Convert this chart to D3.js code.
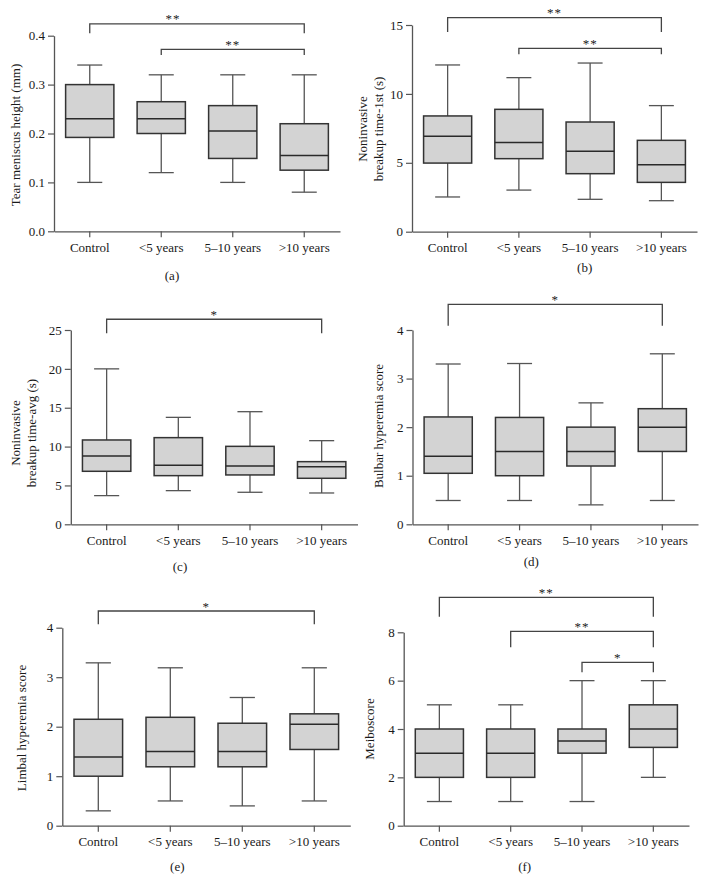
<!DOCTYPE html>
<html><head><meta charset="utf-8">
<script src="https://cdn.jsdelivr.net/npm/d3@7"></script>
<style>
body{margin:0;background:#fff}
svg{display:block}
text{font-family:"Liberation Serif","DejaVu Serif",serif;fill:#1a1a1a}
</style>
</head><body><svg id="c" width="706" height="893"></svg>
<script>
// ---------- DATA ----------
const categories = ["Control", "<5 years", "5\u201310 years", ">10 years"];
// each entry: [whisker min, Q1, median, Q3, whisker max]
const tearMeniscusHeight = [[0.10,0.192,0.23,0.30,0.34],[0.12,0.20,0.23,0.265,0.32],[0.10,0.149,0.205,0.257,0.32],[0.08,0.125,0.155,0.22,0.32]];
const nibutFirst = [[2.52,4.98,6.92,8.40,12.10],[3.02,5.30,6.48,8.88,11.18],[2.35,4.21,5.83,7.96,12.24],[2.25,3.58,4.86,6.63,9.15]];
const nibutAvg = [[3.69,6.82,8.79,10.85,20.0],[4.33,6.26,7.59,11.15,13.76],[4.12,6.35,7.50,10.03,14.49],[4.03,5.92,7.42,8.06,10.76]];
const bulbarHyperemia = [[0.49,1.05,1.40,2.21,3.30],[0.49,1.00,1.50,2.20,3.31],[0.40,1.20,1.50,2.00,2.50],[0.49,1.50,2.00,2.38,3.51]];
const limbalHyperemia = [[0.30,1.00,1.39,2.15,3.29],[0.50,1.19,1.50,2.19,3.19],[0.40,1.19,1.50,2.07,2.59],[0.50,1.54,2.05,2.26,3.19]];
const meiboscore = [[1,2,3,4,5],[1,2,3,4,5],[1,3,3.5,4,6],[2,3.24,4,5,6]];

const ticksA = [0, 0.1, 0.2, 0.3, 0.4];
const ticksB = [0, 5, 10, 15];
const ticksC = [0, 5, 10, 15, 20, 25];
const ticksD = [0, 1, 2, 3, 4];
const ticksE = [0, 1, 2, 3, 4];
const ticksF = [0, 2, 4, 6, 8];

// significance brackets: group indices, label, bracket level and leg end (data units)
const sigA = [{from:0,to:3,label:"**",level:0.424,leg:0.405},{from:1,to:3,label:"**",level:0.372,leg:0.3605}];
const sigB = [{from:0,to:3,label:"**",level:15.54,leg:14.49},{from:1,to:3,label:"**",level:13.31,leg:12.87}];
const sigC = [{from:0,to:3,label:"*",level:26.38,leg:24.58}];
const sigD = [{from:0,to:3,label:"*",level:4.529,leg:4.088}];
const sigE = [{from:0,to:3,label:"*",level:4.337,leg:4.069}];
const sigF = [{from:0,to:3,label:"**",level:9.448,leg:8.645},{from:1,to:3,label:"**",level:8.041,leg:7.379},{from:2,to:3,label:"*",level:6.759,leg:6.345}];

// ---------- LAYOUT ----------
const panels = [
  {data:tearMeniscusHeight, ticks:ticksA, fmt:".1f", title:["Tear meniscus height (mm)"], letter:"(a)", sig:sigA,
   L:{x0:54,x1:340,yb:231.3,yt:35.7,titleX:[15],titleY:135,letterX:172,letterY:275,starShift:[-24,0]}},
  {data:nibutFirst, ticks:ticksB, fmt:"d", title:["Noninvasive","breakup time-1st (s)"], letter:"(b)", sig:sigB,
   L:{x0:412,x1:697,yb:231.7,yt:25,titleX:[362.5,378.5],titleY:129,letterX:584.7,letterY:267,starShift:[0,0]}},
  {data:nibutAvg, ticks:ticksC, fmt:"d", title:["Noninvasive","breakup time-avg (s)"], letter:"(c)", sig:sigC,
   L:{x0:70.8,x1:357.5,yb:524.3,yt:330,titleX:[15,31.7],titleY:433,letterX:180,letterY:566.7,starShift:[0]}},
  {data:bulbarHyperemia, ticks:ticksD, fmt:"d", title:["Bulbar hyperemia score"], letter:"(d)", sig:sigD,
   L:{x0:412.5,x1:698,yb:524.3,yt:330,titleX:[378],titleY:426,letterX:531.3,letterY:561.7,starShift:[0]}},
  {data:limbalHyperemia, ticks:ticksE, fmt:"d", title:["Limbal hyperemia score"], letter:"(e)", sig:sigE,
   L:{x0:62.3,x1:350.3,yb:825.7,yt:627.7,titleX:[21.7],titleY:728,letterX:177.3,letterY:866,starShift:[0]}},
  {data:meiboscore, ticks:ticksF, fmt:"d", title:["Meiboscore"], letter:"(f)", sig:sigF,
   L:{x0:403.7,x1:689,yb:825.7,yt:632.3,titleX:[369.7],titleY:729,letterX:524.7,letterY:866.7,starShift:[0,0,0]}}
];

const svg = d3.select("#c");
const FS = 13;
const axisColor = "#555";
const boxStroke = "#333";
const whiskerColor = "#555";
const fillColor = "#d3d3d3";

panels.forEach(p => {
  const L = p.L;
  const ymax = p.ticks[p.ticks.length - 1];
  const y = d3.scaleLinear().domain([0, ymax]).range([L.yb, L.yt]);
  const x = d3.scaleBand().domain(categories).range([L.x0, L.x1]).padding(0);
  const g = svg.append("g");

  // y axis
  const ya = g.append("g").attr("transform", `translate(${L.x0},0)`)
    .call(d3.axisLeft(y).tickValues(p.ticks).tickFormat(d3.format(p.fmt)).tickSizeInner(6).tickSizeOuter(0).tickPadding(3));
  // x axis
  const xa = g.append("g").attr("transform", `translate(0,${L.yb})`)
    .call(d3.axisBottom(x).tickSizeInner(6).tickSizeOuter(0).tickPadding(5));
  [ya, xa].forEach(a => {
    a.select(".domain").attr("stroke", axisColor).attr("stroke-width", 1.3);
    a.selectAll(".tick line").attr("stroke", axisColor).attr("stroke-width", 1.2);
    a.selectAll(".tick text").attr("font-size", FS).attr("font-family", "Liberation Serif").attr("fill", "#1a1a1a");
  });

  const bw = x.bandwidth();
  const boxW = bw * 0.675, capW = bw * 0.35;
  const groups = g.selectAll(".bx").data(p.data).join("g").attr("class", "bx")
    .attr("transform", (d, i) => `translate(${x(categories[i]) + bw / 2},0)`);
  // whiskers
  groups.append("line").attr("x1", 0).attr("x2", 0).attr("y1", d => y(d[0])).attr("y2", d => y(d[1]))
    .attr("stroke", whiskerColor).attr("stroke-width", 1.3);
  groups.append("line").attr("x1", 0).attr("x2", 0).attr("y1", d => y(d[3])).attr("y2", d => y(d[4]))
    .attr("stroke", whiskerColor).attr("stroke-width", 1.3);
  groups.append("line").attr("x1", -capW / 2).attr("x2", capW / 2).attr("y1", d => y(d[0])).attr("y2", d => y(d[0]))
    .attr("stroke", whiskerColor).attr("stroke-width", 1.3);
  groups.append("line").attr("x1", -capW / 2).attr("x2", capW / 2).attr("y1", d => y(d[4])).attr("y2", d => y(d[4]))
    .attr("stroke", whiskerColor).attr("stroke-width", 1.3);
  // box
  groups.append("rect").attr("x", -boxW / 2).attr("width", boxW)
    .attr("y", d => y(d[3])).attr("height", d => y(d[1]) - y(d[3]))
    .attr("fill", fillColor).attr("stroke", boxStroke).attr("stroke-width", 1.5);
  // median
  groups.append("line").attr("x1", -boxW / 2).attr("x2", boxW / 2).attr("y1", d => y(d[2])).attr("y2", d => y(d[2]))
    .attr("stroke", "#2a2a2a").attr("stroke-width", 1.5);

  // significance brackets
  p.sig.forEach((s, k) => {
    const xa1 = x(categories[s.from]) + bw / 2, xa2 = x(categories[s.to]) + bw / 2;
    const yl = y(s.level), yg = y(s.leg);
    g.append("path").attr("d", `M${xa1},${yg}V${yl}H${xa2}V${yg}`)
      .attr("fill", "none").attr("stroke", "#444").attr("stroke-width", 1.3);
    g.append("text").attr("x", (xa1 + xa2) / 2 + (L.starShift[k] || 0)).attr("y", yl - 0.5)
      .attr("text-anchor", "middle").attr("font-size", FS).attr("letter-spacing", 1).text(s.label);
  });

  // axis title
  p.title.forEach((t, k) => {
    g.append("text").attr("transform", `translate(${L.titleX[k]},${L.titleY}) rotate(-90)`)
      .attr("text-anchor", "middle").attr("dy", "0.35em").attr("font-size", FS).text(t);
  });
  // panel letter
  g.append("text").attr("x", L.letterX).attr("y", L.letterY).attr("dy", "0.35em")
    .attr("text-anchor", "middle").attr("font-size", FS).text(p.letter);
});
</script>
</body></html>
